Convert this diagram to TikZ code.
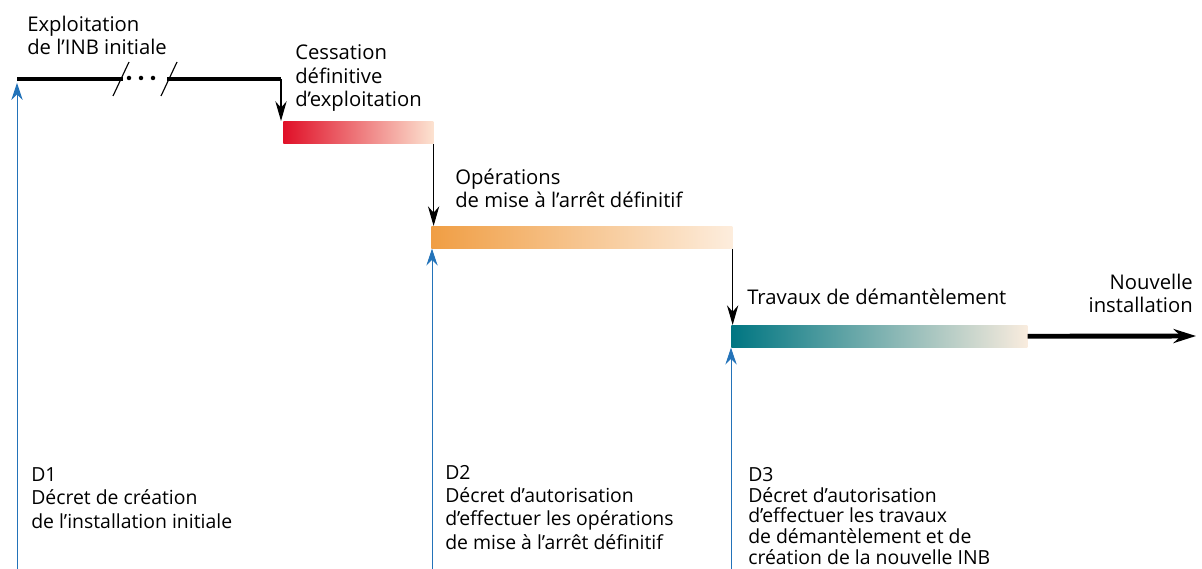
\documentclass[tikz,border=0pt]{standalone}
\usepackage{fontspec}
\setmainfont{Open Sans}
\usetikzlibrary{arrows.meta,positioning}

\definecolor{decretblue}{RGB}{35,115,185}
\definecolor{cessred}{RGB}{224,16,40}
\definecolor{cessmid}{RGB}{238,138,102}
\definecolor{cesspale}{RGB}{252,226,208}
\definecolor{arretorange}{RGB}{240,158,68}
\definecolor{arretpale}{RGB}{253,237,221}
\definecolor{travteal}{RGB}{0,118,130}
\definecolor{travpale}{RGB}{249,236,222}

\begin{document}
\begin{tikzpicture}[x=0.025cm, y=-0.025cm,
        bar/.style = {anchor=north west, inner sep=0pt,
            minimum height=0.55cm},
        phase/.style = {anchor=base west, align=left, inner sep=0pt,
            font=\fontsize{14.4}{17}\selectfont},
        decret/.style = {anchor=base west, align=left, inner sep=0pt,
            font=\fontsize{13.8}{16.4}\selectfont},
        step line/.style = {line width=0.8pt, -{Stealth[length=14pt, width=8pt]}},
        decret line/.style = {decretblue, line width=0.7pt, -{Stealth[length=12pt, width=8pt]}}]

        \useasboundingbox (0,0) rectangle (1202,569);

        % Exploitation of the initial INB
        \coordinate (exstart) at (17,79);
        \coordinate (exend) at (281,79);
        \coordinate (cutA) at (123,79);
        \coordinate (cutB) at (167,79);
        \draw[line width=3.5pt] (exstart) -- (cutA);
        \draw[line width=3.5pt] (cutB) -- (exend);
        \draw[thick] (113,96) -- (129,62);
        \draw[thick] (161,96) -- (177,62);
        \foreach \x in {129,141,153}
            \fill (\x,78) circle (1.6pt);
        \node[phase] (exlabel) at (27,55) {Exploitation\\de l’INB initiale};

        % Phase bars
        \node[bar, minimum width=3.75cm, left color=cessred, middle color=cessmid,
            right color=cesspale] (cess) at (283,121) {};
        \node[bar, minimum width=7.525cm, left color=arretorange, right color=arretpale]
            (arret) at (431,226) {};
        \node[bar, minimum width=7.4cm, left color=travteal, right color=travpale]
            (trav) at (731,325) {};

        % Phase labels
        \node[phase] (cesslabel) at (295,107) {Cessation\\définitive\\d’exploitation};
        \node[phase] (arretlabel) at (455,208) {Opérations\\de mise à l’arrêt définitif};
        \node[phase] (travlabel) at (747,305) {Travaux de démantèlement};
        \node[phase, anchor=base east, align=right] (newlabel) at (1193,313)
            {Nouvelle\\installation};

        % Step arrows
        \draw[step line] (exend) -- (exend |- cess.north);
        \draw[step line] (cess.south east) -- (cess.south east |- arret.north);
        \draw[step line] (arret.south east) -- (arret.south east |- trav.north);
        \coordinate (newinst) at (1196,336);
        \draw[line width=3.5pt, -{Stealth[length=16pt, width=10pt]}] (trav.east) -- (newinst);

        % Decrees
        \coordinate (d1foot) at (17,569);
        \coordinate (d1tip) at (17,83);
        \coordinate (d2foot) at (432,569);
        \coordinate (d3foot) at (731,569);
        \draw[decret line] (d1foot) -- (d1tip);
        \draw[decret line] (d2foot) -- (d2foot |- arret.south);
        \draw[decret line] (d3foot) -- (d3foot |- trav.south);

        \node[decret] (d1) at (31,528) {D1\\Décret de création\\de l’installation initiale};
        \node[decret] (d2) at (445,549) {D2\\Décret d’autorisation\\d’effectuer les opérations\\de mise à l’arrêt définitif};
        \node[decret, font=\fontsize{13.8}{14.6}\selectfont] (d3) at (748,564)
            {D3\\Décret d’autorisation\\d’effectuer les travaux\\de démantèlement et de\\création de la nouvelle INB};

\end{tikzpicture}
\end{document}
